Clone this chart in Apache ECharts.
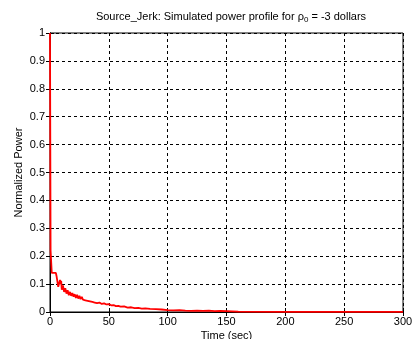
<!DOCTYPE html>
<html><head><meta charset="utf-8">
<script src="https://cdn.jsdelivr.net/npm/echarts@6/dist/echarts.min.js"></script>
<style>html,body{margin:0;padding:0;background:#fff}#c{width:412px;height:339px}</style>
</head><body><div id="c"></div>
<script>
var times = [0, 0.5, 1.2, 1.5, 3, 5, 5.5, 6.5, 7, 7.5, 8, 8.5, 9, 9.5, 10, 11, 12, 13, 14, 15, 16, 17, 18, 19, 20, 21, 22, 23, 24, 25, 26, 27, 28, 29, 30, 31, 32, 33, 34, 35, 36, 37, 38, 39, 40, 42, 44, 46, 48, 50, 52, 54, 56, 58, 60, 63, 66, 69, 72, 75, 78, 81, 85, 90, 95, 100, 105, 110, 115, 120, 125, 130, 135, 140, 145, 150, 155, 160, 200, 250, 300];
var power = [1, 0.22, 0.22, 0.14, 0.14, 0.14, 0.13, 0.13, 0.09, 0.085, 0.095, 0.115, 0.1, 0.112, 0.08, 0.095, 0.072, 0.085, 0.066, 0.078, 0.06, 0.072, 0.058, 0.068, 0.055, 0.064, 0.05, 0.062, 0.048, 0.058, 0.046, 0.054, 0.044, 0.05, 0.042, 0.048, 0.04, 0.046, 0.038, 0.043, 0.036, 0.04, 0.034, 0.038, 0.032, 0.034, 0.029, 0.031, 0.027, 0.028, 0.024, 0.025, 0.021, 0.022, 0.019, 0.02, 0.016, 0.017, 0.014, 0.015, 0.012, 0.013, 0.011, 0.01, 0.009, 0.007, 0.006, 0.007, 0.005, 0.004, 0.005, 0.004, 0.005, 0.003, 0.004, 0.003, 0.002, 0.001, 0.0008, 0.0005, 0.0003];
var xTicks = [0, 50, 100, 150, 200, 250, 300];
var yTicks = [0, 0.1, 0.2, 0.3, 0.4, 0.5, 0.6, 0.7, 0.8, 0.9, 1];

var data = times.map(function(t, i){ return [t, power[i]]; });
var font = 'Liberation Sans, Arial, sans-serif';
var chart = echarts.init(document.getElementById('c'));
chart.setOption({
  animation: false,
  title: {
    text: 'Source_Jerk: Simulated power profile for ρ{sub|0} = -3 dollars',
    left: 226, top: 5, textAlign: 'center',
    textStyle: {
      fontFamily: font, fontSize: 11, fontWeight: 'normal', color: '#000',
      rich: { sub: { fontFamily: font, fontSize: 8, color: '#000', padding: [6, 0, 0, 0] } }
    }
  },
  grid: { left: 50, right: 9, top: 33, bottom: 27, outerBoundsMode: 'none', containLabel: false, show: true, borderColor: '#000', borderWidth: 1, backgroundColor: '#fff' },
  xAxis: [{
    type: 'value', min: xTicks[0], max: xTicks[xTicks.length-1], interval: 50,
    name: 'Time (sec)', nameLocation: 'middle', nameGap: 18, nameMoveOverlap: false,
    nameTextStyle: { fontFamily: font, fontSize: 11, color: '#000' },
    axisLine: { show: true, onZero: false, lineStyle: { color: '#000' } },
    axisTick: { show: true, inside: true, length: 4, lineStyle: { color: '#000' } },
    axisLabel: { fontFamily: font, fontSize: 11, color: '#000', margin: 4 },
    splitLine: { show: true, lineStyle: { color: '#000', type: [3, 3], width: 1 } }
  }, {
    type: 'value', position: 'top', min: 0, max: 300, interval: 50,
    axisLine: { show: true, lineStyle: { color: '#000' } },
    axisTick: { show: true, inside: true, length: 4, lineStyle: { color: '#000' } },
    axisLabel: { show: false }, splitLine: { show: false }
  }],
  yAxis: [{
    type: 'value', min: yTicks[0], max: yTicks[yTicks.length-1], interval: 0.1,
    name: 'Normalized Power', nameLocation: 'middle', nameGap: 26, nameRotate: 90, nameMoveOverlap: false,
    nameTextStyle: { fontFamily: font, fontSize: 11, color: '#000' },
    axisLine: { show: true, onZero: false, lineStyle: { color: '#000' } },
    axisTick: { show: true, inside: true, length: 4, lineStyle: { color: '#000' } },
    axisLabel: { fontFamily: font, fontSize: 11, color: '#000', margin: 5 },
    splitLine: { show: true, lineStyle: { color: '#000', type: [3, 3], width: 1 } }
  }, {
    type: 'value', position: 'right', min: 0, max: 1, interval: 0.1,
    axisLine: { show: true, lineStyle: { color: '#000' } },
    axisTick: { show: true, inside: true, length: 4, lineStyle: { color: '#000' } },
    axisLabel: { show: false }, splitLine: { show: false }
  }],
  series: [{
    type: 'line', data: data, showSymbol: false, symbol: 'none',
    lineStyle: { color: '#ff0000', width: 1.8 }, z: 5
  }]
});
</script></body></html>
